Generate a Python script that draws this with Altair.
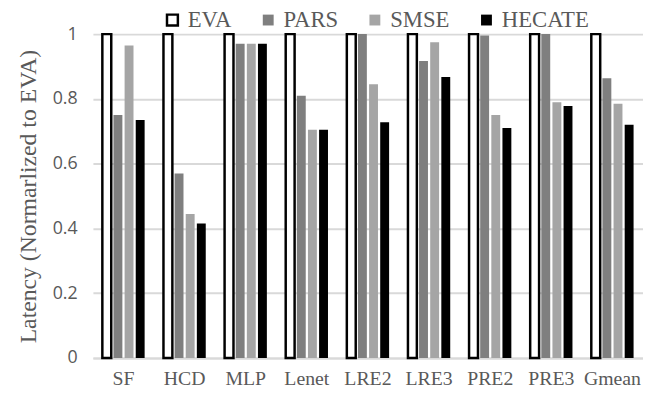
import altair as alt
import pandas as pd

categories = ["SF", "HCD", "MLP", "Lenet", "LRE2", "LRE3", "PRE2", "PRE3", "Gmean"]
series = ["EVA", "PARS", "SMSE", "HECATE"]
eva = [1, 1, 1, 1, 1, 1, 1, 1, 1]
pars = [0.75, 0.57, 0.97, 0.81, 1.0, 0.917, 0.996, 1.0, 0.864]
smse = [0.965, 0.445, 0.97, 0.705, 0.845, 0.975, 0.75, 0.79, 0.785]
hecate = [0.735, 0.415, 0.97, 0.705, 0.728, 0.868, 0.71, 0.778, 0.72]

fills = ["white", "#7f7f7f", "#a5a5a5", "black"]
strokes = ["black", "transparent", "transparent", "transparent"]

rows = []
for s, vals in zip(series, [eva, pars, smse, hecate]):
    for c, v in zip(categories, vals):
        rows.append({"category": c, "series": s, "value": v})
df = pd.DataFrame(rows)

legend = alt.Legend(
    title=None, orient="none", direction="horizontal", legendX=69, legendY=-26,
    symbolType="square", symbolSize=121, symbolStrokeWidth=2.5,
    labelFont="Liberation Serif", labelFontSize=23, labelColor="#595959",
    columnPadding=25, labelOffset=4, columns=4,
)

chart = alt.Chart(df).mark_bar(strokeWidth=2.5).encode(
    x=alt.X("category:N", sort=categories, title=None,
            scale=alt.Scale(paddingInner=0.29, paddingOuter=0.145),
            axis=alt.Axis(labelAngle=0, labelFont="Liberation Serif", labelFontSize=20,
                          labelColor="#595959", labelPadding=11, ticks=False,
                          domainColor="#d9d9d9", domainWidth=2)),
    xOffset=alt.XOffset("series:N", sort=series,
                        scale=alt.Scale(paddingInner=0.2, paddingOuter=0.05)),
    y=alt.Y("value:Q", title="Latency (Normarlized to EVA)",
            scale=alt.Scale(domain=[0, 1], nice=False),
            axis=alt.Axis(values=[0, 0.2, 0.4, 0.6, 0.8, 1], format="~g",
                          labelFont="Open Sans", labelFontSize=18, labelColor="#595959",
                          labelPadding=16, ticks=False, domain=False,
                          gridColor="#d9d9d9", gridWidth=2,
                          titleFont="Liberation Serif", titleFontSize=24,
                          titleFontWeight="normal", titleColor="#595959",
                          titlePadding=12)),
    fill=alt.Fill("series:N", sort=series,
                  scale=alt.Scale(domain=series, range=fills), legend=legend),
    stroke=alt.Stroke("series:N", sort=series,
                      scale=alt.Scale(domain=series, range=strokes), legend=legend),
).properties(
    width=557, height=328,
    autosize=alt.AutoSizeParams(type="none"),
    padding={"left": 86, "top": 24, "right": 0, "bottom": 37},
).configure_view(stroke=None)

chart.save("out.html", embed_options={"renderer": "svg", "actions": False})
